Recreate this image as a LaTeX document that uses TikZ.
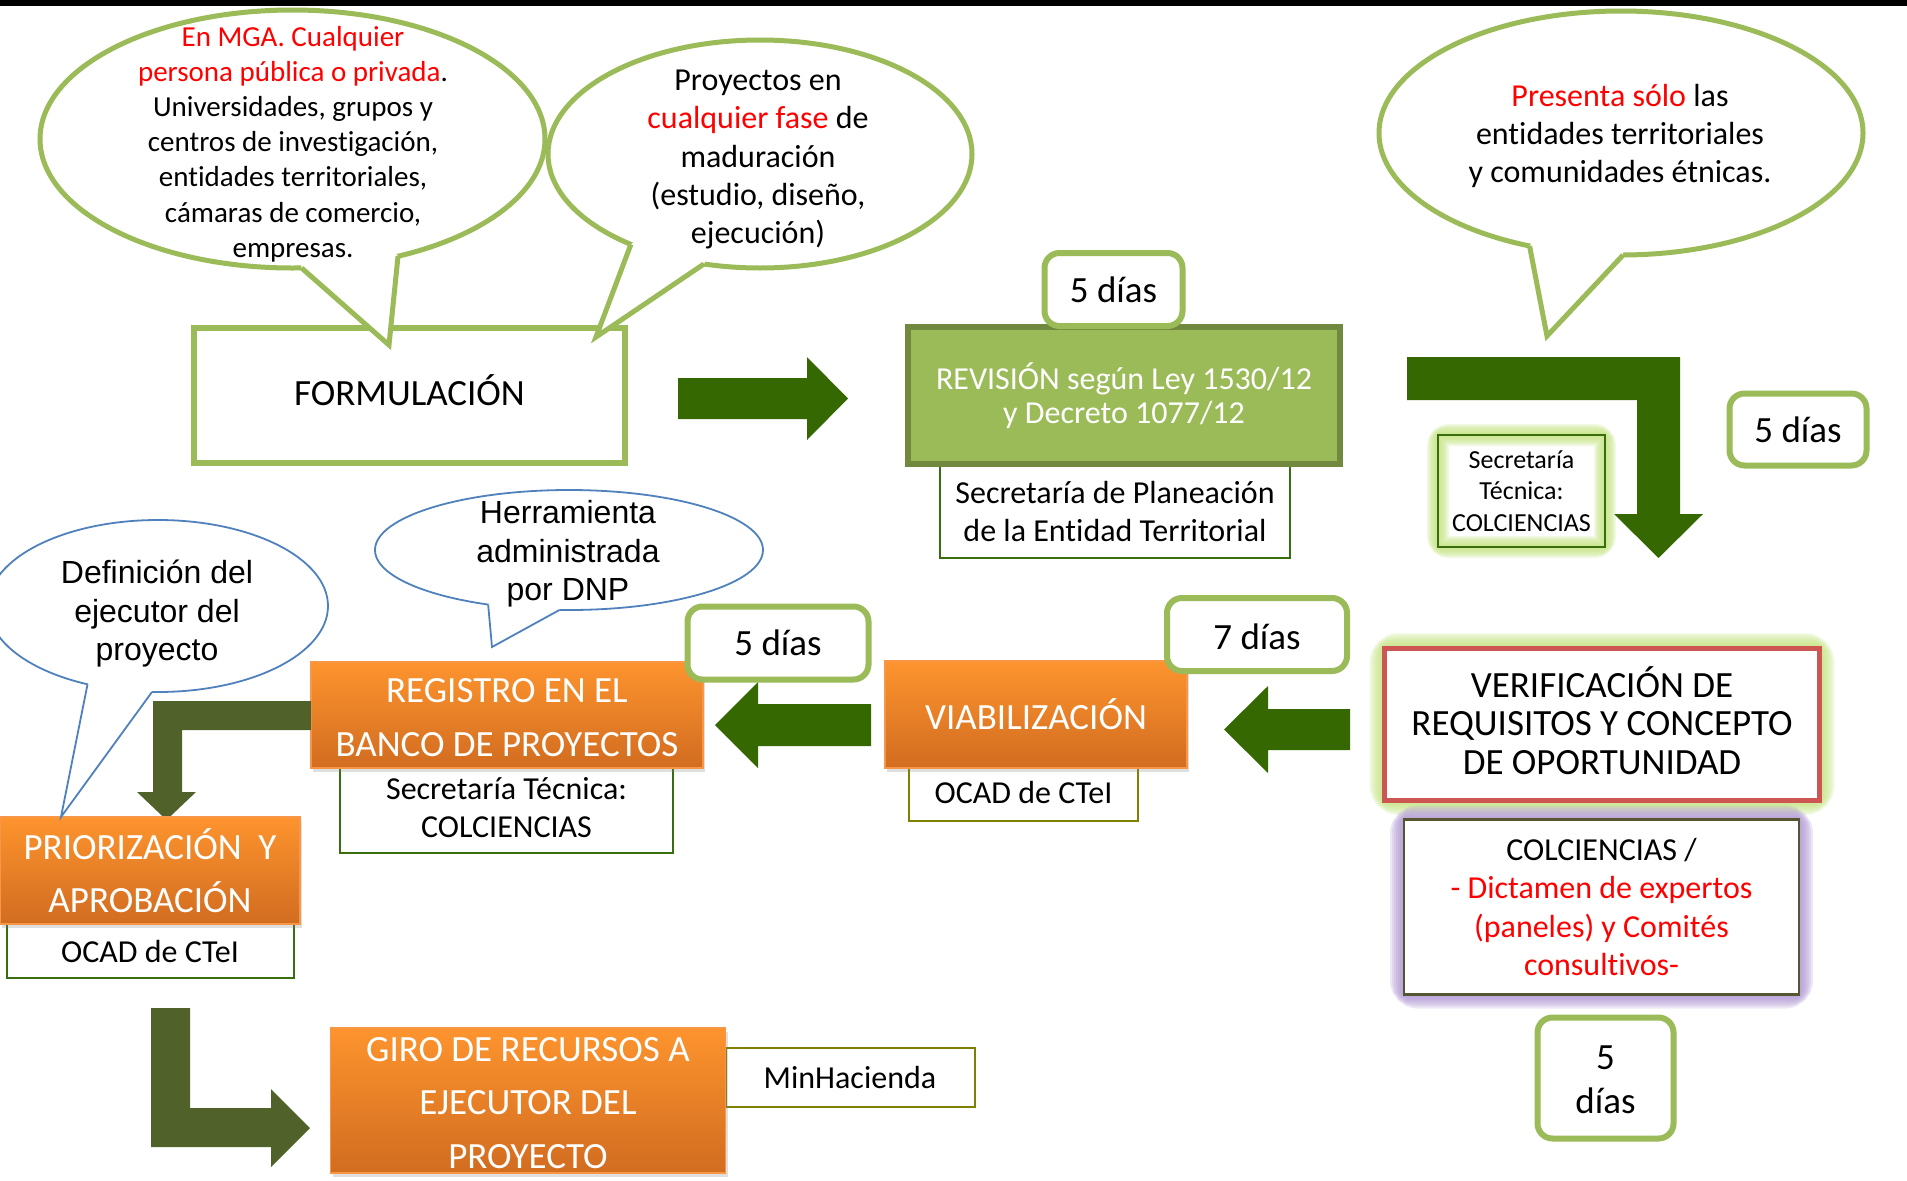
\documentclass[tikz,border=0pt]{standalone}
\usepackage{fontspec}
\setmainfont{Carlito}[Ligatures=NoCommon]
\newfontfamily\arialf{Liberation Sans}
\usetikzlibrary{shapes.geometric,calc,backgrounds,shadows}
\definecolor{lgreen}{RGB}{155,187,89}
\definecolor{dgreen}{RGB}{113,137,62}
\definecolor{arrowgreen}{RGB}{54,104,2}
\definecolor{olivearrow}{RGB}{80,98,42}
\definecolor{orangetop}{RGB}{253,148,46}
\definecolor{orangebot}{RGB}{210,108,32}
\definecolor{orangeedge}{RGB}{247,150,70}
\definecolor{bblue}{RGB}{79,129,189}
\definecolor{thingreen}{RGB}{56,110,16}
\definecolor{oliveedge}{RGB}{128,128,0}
\definecolor{redbox}{RGB}{205,85,82}
\definecolor{glowgreen}{RGB}{195,228,125}
\definecolor{glowpurple}{RGB}{175,150,212}
\definecolor{colcedge}{RGB}{85,85,50}
\definecolor{txtred}{RGB}{255,0,0}

\newcommand{\fsz}[2]{\fontsize{#1}{#2}\selectfont}

\newcommand{\bubbletail}[6]{%
  \fill[white] (#1.#2) -- (#4) -- (#1.#3) -- ($(#1.#3)!12pt!(#1.center)$) -- ($(#1.#2)!12pt!(#1.center)$) -- cycle;
  \draw[#5, line width=#6] (#1.#2) -- (#4) -- (#1.#3);
}

\newcommand{\glowaround}[3]{%
  \begin{scope}[on background layer]
    \foreach \k in {1,...,7} {%
      \pgfmathsetmacro{\glw}{2*#3*\k/7}%
      \pgfmathsetmacro{\grc}{#3*\k/7}%
      \draw[#2, line width=\glw pt, opacity=0.22, rounded corners=\grc pt] (#1.south west) rectangle (#1.north east);
    }
  \end{scope}}

\begin{document}
\begin{tikzpicture}[x=1pt,y=-1pt,
  nb/.style={inner sep=0,outer sep=0,align=center},
  plainbox/.style={nb,rectangle,draw=#1,fill=white},
  diasbox/.style={nb,rectangle,draw=lgreen,line width=6,rounded corners=15,fill=white,font=\fsz{37}{48}},
  obox/.style={nb,rectangle,draw=orangeedge,line width=1.5,top color=orangetop,bottom color=orangebot,text=white,font=\fsz{37}{53.5},drop shadow={shadow xshift=2pt,shadow yshift=-4pt,opacity=0.25}},
  gbubble/.style={nb,ellipse,draw=lgreen,line width=5,fill=white},
  bbubble/.style={nb,ellipse,draw=bblue,line width=1.8,fill=white},
  tx/.style={nb},
  wtx/.style={nb,text=white},
  garrow/.style={fill=arrowgreen},
  oarrow/.style={fill=olivearrow}]

\useasboundingbox (0,0) rectangle (1907,1181);
\begin{scope}[on background layer]
  \fill[white] (0,0) rectangle (1907,1181);
\end{scope}
\fill[black] (0,0) rectangle (1907,6);

% FORMULACION
\node[plainbox=lgreen, line width=6, minimum width=431, minimum height=135] (form) at (409.5,395.5) {};
\node[tx, font=\fsz{37}{44}] (formT) at (409.5,390.6) {FORMULACIÓN};

\fill[garrow] (678,378) -- (807,378) -- (807,357) -- (848,398.5) -- (807,440) -- (807,419) -- (678,419) -- cycle;

% REVISION
\node[plainbox=thingreen, line width=2, minimum width=350, minimum height=93, font=\fsz{32}{39}] (plan) at (1115,511.5) {Secretaría de Planeación\\de la Entidad Territorial};
\node[nb, draw=dgreen, fill=lgreen, line width=6, minimum width=432, minimum height=137, text=white, font=\fsz{32}{34}] (rev) at (1124,395.5) {REVISIÓN según Ley 1530/12\\y Decreto 1077/12};
\node[diasbox, minimum width=138, minimum height=73] (d1) at (1113.5,289.5) {5 días};

% top right L arrow
\fill[garrow] (1407,357) -- (1680,357) -- (1680,514) -- (1703,514) -- (1658.5,558) -- (1614,514) -- (1637,514) -- (1637,400) -- (1407,400) -- cycle;

\node[nb, draw=thingreen, line width=2, minimum width=167, minimum height=112, font=\fsz{26}{31.5}] (stec) at (1521.5,491) {Secretaría\\Técnica:\\COLCIENCIAS};
\glowaround{stec}{glowgreen}{11}

\node[diasbox, minimum width=137, minimum height=72] (d2) at (1798,429.5) {5 días};

% VERIFICACION
\node[plainbox=redbox, line width=5, minimum width=435, minimum height=152] (verif) at (1602,724) {};
\node[tx, font=\fsz{37}{38.5}] (verifT) at (1602,720.4) {VERIFICACIÓN DE\\REQUISITOS Y CONCEPTO\\DE OPORTUNIDAD};
\glowaround{verif}{glowgreen}{15}

\node[plainbox=colcedge, line width=2.5, minimum width=395, minimum height=175, font=\fsz{32}{38.5}] (colc) at (1601.5,907) {COLCIENCIAS /\\\textcolor{txtred}{- Dictamen de expertos}\\\textcolor{txtred}{(paneles) y Comités}\\\textcolor{txtred}{consultivos-}};
\glowaround{colc}{glowpurple}{14}

\node[diasbox, minimum width=136, minimum height=121] (d3) at (1605.5,1078) {};
\node[tx, font=\fsz{37}{44.5}] (d3T) at (1605.5,1079.8) {5\\días};

\fill[garrow] (1350,709) -- (1268,709) -- (1268,686) -- (1224,729.5) -- (1268,773) -- (1268,750) -- (1350,750) -- cycle;

% VIABILIZACION
\node[plainbox=oliveedge, line width=2, minimum width=229, minimum height=58, font=\fsz{32}{37}] (ocad1) at (1023.5,792) {OCAD de CTeI};
\node[obox, minimum width=302, minimum height=107] (viab) at (1036,714.5) {VIABILIZACIÓN};
\node[diasbox, minimum width=180, minimum height=73] (d4) at (1257,634.5) {};
\node[tx, font=\fsz{37}{44}] (d4T) at (1257,637) {7 días};

\fill[garrow] (871,704) -- (758,704) -- (758,682) -- (715,725) -- (758,768) -- (758,746) -- (871,746) -- cycle;

% REGISTRO
\node[plainbox=thingreen, line width=2, minimum width=333, minimum height=85] (stec2) at (506.5,810.5) {};
\node[tx, font=\fsz{32}{38}] (stec2T) at (506.5,808) {Secretaría Técnica:\\COLCIENCIAS};
\node[obox, minimum width=392, minimum height=106] (reg) at (507,715) {};
\node[wtx, font=\fsz{37}{53.5}] (regT) at (507,717.4) {REGISTRO EN EL\\BANCO DE PROYECTOS};
\node[diasbox, minimum width=181, minimum height=73] (d5) at (778,643) {5 días};

\fill[oarrow] (311,701) -- (153,701) -- (153,792) -- (137,792) -- (166.5,820) -- (196,792) -- (182,792) -- (182,730) -- (311,730) -- cycle;

% PRIORIZACION
\node[plainbox=thingreen, line width=2, minimum width=287, minimum height=54, font=\fsz{32}{37}] (ocad2) at (150,951) {OCAD de CTeI};
\node[obox, minimum width=300, minimum height=107] (prior) at (150,870.5) {PRIORIZACIÓN~ Y\\APROBACIÓN};

\fill[oarrow] (151,1008) -- (190,1008) -- (190,1108) -- (271,1108) -- (271,1089) -- (310,1128) -- (271,1167) -- (271,1147) -- (151,1147) -- cycle;

% GIRO
\node[plainbox=oliveedge, line width=2, minimum width=249, minimum height=59, font=\fsz{32}{37}] (minh) at (850,1077.5) {MinHacienda};
\node[obox, minimum width=395, minimum height=145] (giro) at (528,1100.5) {};
\node[wtx, font=\fsz{37}{53.5}] (giroT) at (528,1103) {GIRO DE RECURSOS A\\EJECUTOR DEL\\PROYECTO};

% Bubble A
\node[gbubble, minimum width=505, minimum height=258] (bA) at (292.5,139) {};
\coordinate (tipA) at (389,345);
\bubbletail{bA}{274.7}{312}{tipA}{lgreen}{5}
\node[tx, font=\fsz{29}{35.2}] (tA) at (293,144) {\textcolor{txtred}{En MGA. Cualquier}\\\textcolor{txtred}{persona pública o privada}.\\Universidades, grupos y\\centros de investigación,\\entidades territoriales,\\cámaras de comercio,\\empresas.};

% Bubble B
\node[gbubble, minimum width=424, minimum height=228] (bB) at (760,154) {};
\coordinate (tipB) at (596,337);
\bubbletail{bB}{215.8}{243.6}{tipB}{lgreen}{5}
\node[tx, font=\fsz{32}{38.3}] (tB) at (758,159.5) {Proyectos en\\\textcolor{txtred}{cualquier fase} de\\maduración\\(estudio, diseño,\\ejecución)};

% Bubble C
\node[gbubble, minimum width=484, minimum height=244] (bC) at (1621,133) {};
\coordinate (tipC) at (1547,336);
\bubbletail{bC}{231.6}{271.9}{tipC}{lgreen}{5}
\node[tx, font=\fsz{32}{38.3}] (tC) at (1620,136) {\textcolor{txtred}{Presenta sólo} las\\entidades territoriales\\y comunidades étnicas.};

% Bubble D
\node[bbubble, minimum width=340, minimum height=172] (bD) at (158,606) {};
\coordinate (tipD) at (61,817);
\bubbletail{bD}{228.5}{266.6}{tipD}{bblue}{1.8}
\node[tx, font=\arialf\fsz{32}{38.3}] (tD) at (157,613.6) {Definición del\\ejecutor del\\proyecto};

% Bubble E
\node[bbubble, minimum width=388, minimum height=120] (bE) at (569,550) {};
\coordinate (tipE) at (492,647);
\bubbletail{bE}{214.7}{261.5}{tipE}{bblue}{1.8}
\node[tx, font=\arialf\fsz{32}{38.5}] (tE) at (568,554) {Herramienta\\administrada\\por DNP};

\end{tikzpicture}
\end{document}
